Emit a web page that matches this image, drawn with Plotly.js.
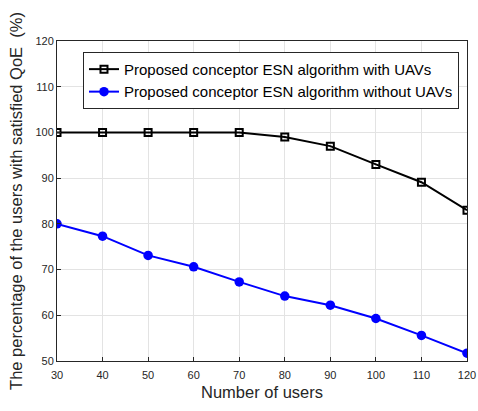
<!DOCTYPE html>
<html>
<head>
<meta charset="utf-8">
<script src="https://cdn.plot.ly/plotly-3.0.1.min.js"></script>
<style>html,body{margin:0;padding:0;background:#fff;}#chart{width:478px;height:411px;}</style>
</head>
<body>
<div id="chart"></div>
<script>
// Number of users on the x axis
const users = [30, 40, 50, 60, 70, 80, 90, 100, 110, 120];
// Percentage of users with satisfied QoE
const withUAVs = [100, 100, 100, 100, 100, 99.0, 97.0, 93.0, 89.1, 83.0];
const withoutUAVs = [80.0, 77.3, 73.1, 70.6, 67.3, 64.2, 62.2, 59.3, 55.6, 51.7];
const seriesNames = [
  'Proposed conceptor ESN algorithm with UAVs',
  'Proposed conceptor ESN algorithm without UAVs'
];
const xTicks = [30, 40, 50, 60, 70, 80, 90, 100, 110, 120];
const yTicks = [50, 60, 70, 80, 90, 100, 110, 120];

const font = 'Liberation Sans, Arial, Helvetica, sans-serif';

const traces = [
  {
    x: users, y: withUAVs, name: seriesNames[0], type: 'scatter', mode: 'lines+markers',
    line: {color: '#000000', width: 2},
    marker: {symbol: 'square-open', size: 7, color: '#000000', line: {width: 2, color: '#000000'}}
  },
  {
    x: users, y: withoutUAVs, name: seriesNames[1], type: 'scatter', mode: 'lines+markers',
    line: {color: '#0000ff', width: 2},
    marker: {symbol: 'circle', size: 9.5, color: '#0000ff'}
  }
];

const axisCommon = {
  showline: true, linecolor: '#262626', linewidth: 1, mirror: true,
  ticks: 'inside', ticklen: 4, tickcolor: '#262626',
  showgrid: true, gridcolor: '#e3e3e3', gridwidth: 1,
  zeroline: false,
  tickfont: {family: font, size: 11, color: '#262626'}
};

const layout = {
  width: 478, height: 411,
  margin: {l: 57, r: 11, t: 41, b: 50},
  paper_bgcolor: '#ffffff', plot_bgcolor: '#ffffff',
  showlegend: true,
  legend: {
    x: 0.0634, y: 0.966, xanchor: 'left', yanchor: 'top',
    bgcolor: '#ffffff', bordercolor: '#262626', borderwidth: 1,
    font: {family: font, size: 15, color: '#000000'},
    tracegroupgap: 0, itemwidth: 30
  },
  xaxis: Object.assign({}, axisCommon, {
    range: [30, 120], tickvals: xTicks, ticklabelstandoff: 4,
    title: {text: 'Number of users', font: {family: font, size: 16.5, color: '#262626'}, standoff: 6}
  }),
  yaxis: Object.assign({}, axisCommon, {
    range: [50, 120], tickvals: yTicks,
    title: {text: 'The percentage of the users with satisfied QoE  (%)', font: {family: font, size: 16.5, color: '#262626'}, standoff: 8}
  })
};

Plotly.newPlot('chart', traces, layout, {displayModeBar: false, staticPlot: true});
</script>
</body>
</html>
